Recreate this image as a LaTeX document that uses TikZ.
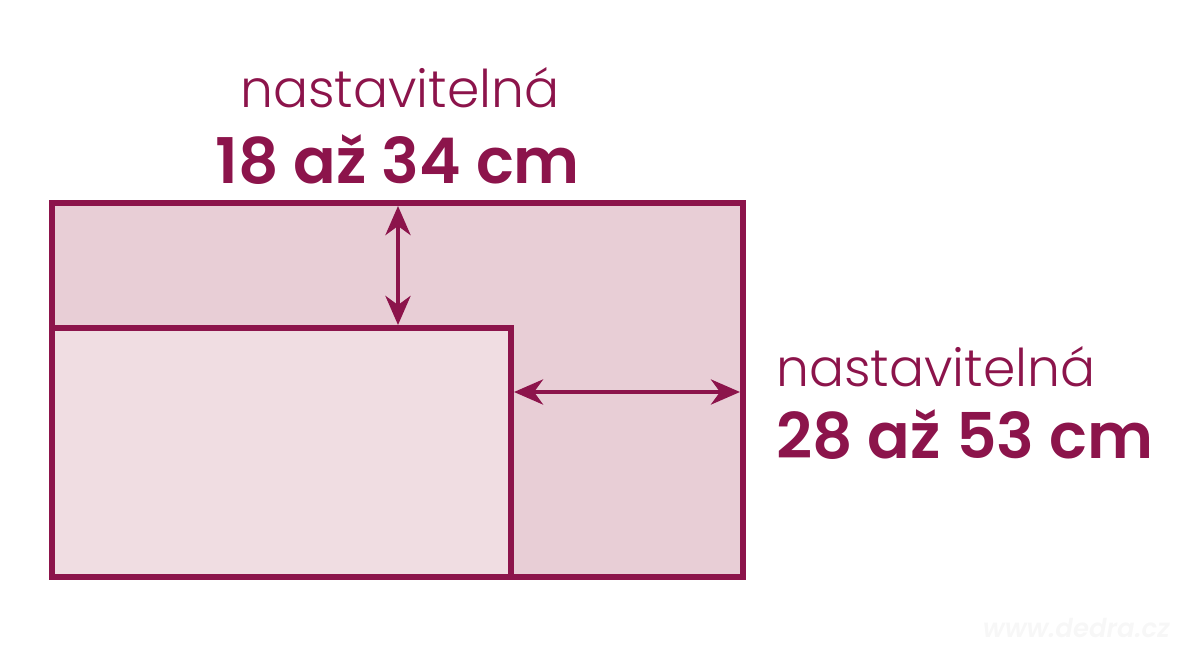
\documentclass[tikz,border=0pt]{standalone}
\usepackage{fontspec}
\setmainfont{Poppins}
\newfontfamily\thinfont{Poppins}[UprightFont=* Light]
\newfontfamily\demifont{Poppins}[UprightFont=* SemiBold]
\usetikzlibrary{arrows.meta}
\definecolor{wine}{RGB}{140,20,75}
\definecolor{roseback}{RGB}{232,206,214}
\definecolor{rosefront}{RGB}{240,221,226}

\begin{document}
\begin{tikzpicture}[x=1pt,y=-1pt]
		\tikzset{frame/.style={draw=wine,line width=5.5pt}}
		\tikzset{dimarrow/.style={wine,line width=4.5pt,{Stealth[length=29pt,width=25pt,inset=9pt]}-{Stealth[length=29pt,width=25pt,inset=9pt]}}}
		\tikzset{thinlabel/.style={wine,inner sep=0pt,anchor=base west,font=\thinfont\fontsize{52}{52}\selectfont}}
		\tikzset{boldlabel/.style={wine,inner sep=0pt,anchor=base west,font=\demifont\fontsize{63}{63}\selectfont}}
		\useasboundingbox (0,0) rectangle (1200,650);
		% rectangles
		\coordinate (outerNW) at (52,203);
		\coordinate (outerSE) at (743,577);
		\coordinate (innerNW) at (52,328);
		\coordinate (innerSE) at (511,577);
		\draw[frame,fill=roseback] (outerNW) rectangle (outerSE);
		\draw[frame,fill=rosefront] (innerNW) rectangle (innerSE);
		% arrows
		\coordinate (gapTop) at (398,206);
		\coordinate (gapBottom) at (398,325);
		\coordinate (gapLeft) at (514,392);
		\coordinate (gapRight) at (740,392);
		\draw[dimarrow] (gapTop) -- (gapBottom);
		\draw[dimarrow] (gapLeft) -- (gapRight);
		% labels
		\node[thinlabel] (topword) at (240,108) {nastavitelná};
		\node[boldlabel] (toprange) at (215,183) {18 až 34 cm};
		\node[thinlabel] (sideword) at (776,386) {nastavitelná};
		\node[boldlabel] (siderange) at (776,458) {28 až 53 cm};
		\node[gray!6,inner sep=0pt,anchor=base east,font=\demifont\itshape\fontsize{26}{26}\selectfont] (mark) at (1170,637) {www.dedra.cz};
	\end{tikzpicture}
\end{document}
